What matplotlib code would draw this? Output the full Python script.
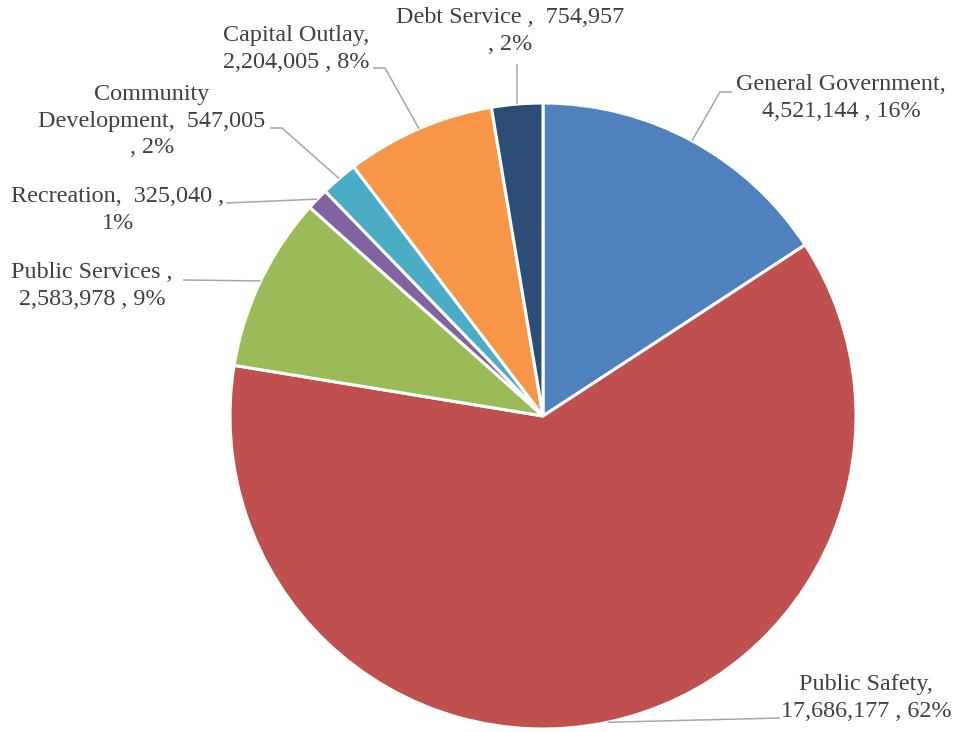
import numpy as np
import matplotlib
matplotlib.use("Agg")
import matplotlib.pyplot as plt

# Expenditure categories, amounts and the percentages shown in the labels
categories = ["General Government", "Public Safety", "Public Services", "Recreation",
              "Community Development", "Capital Outlay", "Debt Service"]
amounts = [4521144, 17686177, 2583978, 325040, 547005, 2204005, 754957]
pct_labels = [16, 62, 9, 1, 2, 8, 2]
colors = ["#4F81BD", "#C0504D", "#9BBB59", "#8064A2", "#4BACC6", "#F79646", "#2C4D75"]

W, H = 959, 732
fig = plt.figure(figsize=(W / 100, H / 100), dpi=100)
ax = fig.add_axes([0, 0, 1, 1])


def px(x, y):
    """Convert top-left pixel coordinates to axis data coordinates."""
    return x, H - y


cx, cy = px(543, 416)
radius = 313

wedges, _ = ax.pie(amounts, colors=colors, startangle=90, counterclock=False,
                   center=(cx, cy), radius=radius, frame=True,
                   wedgeprops=dict(edgecolor="white", linewidth=2.2))
ax.set_xlim(0, W)
ax.set_ylim(0, H)
ax.set_aspect("equal")
ax.axis("off")


def fmt(v):
    return f"{v:,}"


labels = [
    f"General Government,\n{fmt(amounts[0])} , {pct_labels[0]}%",
    f"Public Safety,\n{fmt(amounts[1])} , {pct_labels[1]}%",
    f"Public Services ,\n{fmt(amounts[2])} , {pct_labels[2]}%",
    f"Recreation,  {fmt(amounts[3])} ,\n{pct_labels[3]}%",
    f"Community\nDevelopment,  {fmt(amounts[4])}\n, {pct_labels[4]}%",
    f"Capital Outlay,\n{fmt(amounts[5])} , {pct_labels[5]}%",
    f"Debt Service ,  {fmt(amounts[6])}\n, {pct_labels[6]}%",
]

# label centre positions and leader-line routing (elbow points) in pixels
label_pos = [(841, 98), (866, 698), (92, 286), (118, 210), (152, 121), (296, 49), (510, 31)]
leader_pts = [
    [(720, 92), (732, 92)],
    [(780, 718)],
    [(183, 280)],
    [(226, 203)],
    [(282, 128), (270, 128)],
    [(385, 68), (373, 68)],
    [(517, 64)],
]

text_color = "#404040"
line_color = "#A6A6A6"

for w, lab, pos, pts in zip(wedges, labels, label_pos, leader_pts):
    mid = np.deg2rad((w.theta1 + w.theta2) / 2)
    ex = cx + radius * np.cos(mid)
    ey = cy + radius * np.sin(mid)
    xs = [ex] + [px(*p)[0] for p in pts]
    ys = [ey] + [px(*p)[1] for p in pts]
    ax.plot(xs, ys, color=line_color, lw=1.1, solid_capstyle="butt", zorder=1)
    tx, ty = px(*pos)
    ax.text(tx, ty, lab, ha="center", va="center", multialignment="center",
            fontsize=17.4, family="Liberation Serif", color=text_color,
            linespacing=1.32)

fig.savefig("out.png", dpi=100, facecolor="white")
